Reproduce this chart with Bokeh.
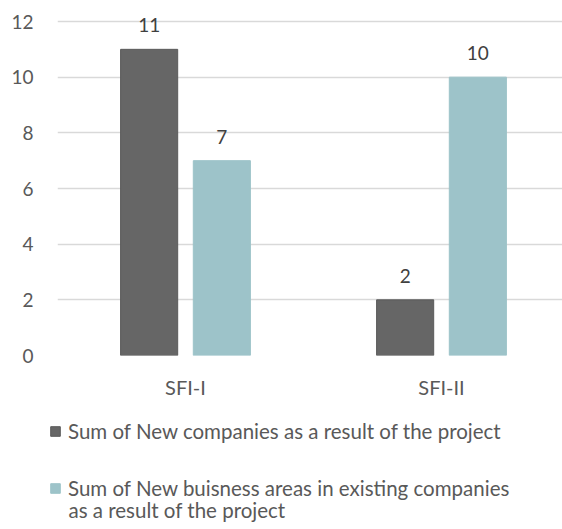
import numpy as np
from bokeh.plotting import figure
from bokeh.layouts import column
from bokeh.models import (ColumnDataSource, Range1d, FixedTicker, LabelSet,
                          Legend, LegendItem, Label)
from bokeh.core.properties import value
from bokeh.embed import file_html
from bokeh.resources import INLINE

categories = ["SFI-I", "SFI-II"]
new_companies = [11, 2]
new_business_areas = [7, 10]
series_names = ["Sum of New companies as a result of the project",
                "Sum of New buisness areas in existing companies"]
series2_cont = "as a result of the project"
y_ticks = [0, 2, 4, 6, 8, 10, 12]

DARK = "#666666"
LIGHT = "#9DC3C9"
FONT = "Lato"

idx = np.arange(len(categories)) + 0.5
off = 0.142
bw = 0.223

src1 = ColumnDataSource(dict(x=idx - off, top=new_companies,
                             lab=[str(v) for v in new_companies]))
src2 = ColumnDataSource(dict(x=idx + off, top=new_business_areas,
                             lab=[str(v) for v in new_business_areas]))

W = 562
PX_PER_UNIT = 334 / 12
p = figure(width=W, height=410, output_backend="svg", toolbar_location=None,
           x_range=Range1d(0, 505 / 256),
           y_range=Range1d(0, 12 + 21 / PX_PER_UNIT),
           min_border_left=57, min_border_right=0, min_border_top=0,
           min_border_bottom=55)
p.outline_line_color = None
p.background_fill_color = "white"
p.border_fill_color = "white"

r1 = p.vbar(x="x", top="top", width=bw, source=src1, fill_color=DARK,
            line_color="#5a5a5a", line_width=1)
r2 = p.vbar(x="x", top="top", width=bw, source=src2, fill_color=LIGHT,
            line_color=LIGHT, line_width=1)

for s in (src1, src2):
    p.add_layout(LabelSet(x="x", y="top", text="lab", source=s,
                          text_align="center", text_baseline="middle",
                          y_offset=24, text_font=value(FONT),
                          text_font_size="19px", text_color="#404040"))

# axes
p.yaxis.ticker = FixedTicker(ticks=y_ticks)
p.yaxis.axis_line_color = None
p.yaxis.major_tick_line_color = None
p.yaxis.minor_tick_line_color = None
p.yaxis.major_label_standoff = 18
p.yaxis.major_label_text_font = FONT
p.yaxis.major_label_text_font_size = "19px"
p.yaxis.major_label_text_color = "#595959"

p.xaxis.ticker = FixedTicker(ticks=list(idx))
p.xaxis.major_label_overrides = {float(v): c for v, c in zip(idx, categories)}
p.xaxis.axis_line_color = None
p.xaxis.major_tick_line_color = None
p.xaxis.minor_tick_line_color = None
p.xaxis.major_label_standoff = 13
p.xaxis.major_label_text_font = FONT
p.xaxis.major_label_text_font_size = "20px"
p.xaxis.major_label_text_color = "#595959"

p.xgrid.grid_line_color = None
p.ygrid.grid_line_color = "#d9d9d9"
p.ygrid.grid_line_width = 1.5

# legend figure
LH = 115
q = figure(width=W, height=LH, output_backend="svg", toolbar_location=None,
           x_range=Range1d(0, 1), y_range=Range1d(0, 1),
           x_axis_location=None, y_axis_location=None,
           min_border=0, min_border_left=0, min_border_right=0,
           min_border_top=0, min_border_bottom=0)
aligned_off = 0
try:
    q.frame_align = False
    p.frame_align = False
except Exception:
    aligned_off = 8  # frames stay aligned at x=57; shift legend as little as possible
lx = 49 if aligned_off == 0 else 0

q.grid.visible = False
q.outline_line_color = None
q.border_fill_color = "white"
q.background_fill_color = "white"
g1 = q.vbar(x=[5], top=[1], width=0.1, fill_color=DARK, line_color="#5a5a5a")
g2 = q.vbar(x=[5], top=[1], width=0.1, fill_color=LIGHT, line_color=LIGHT)

legend = Legend(items=[LegendItem(label=series_names[0], renderers=[g1]),
                       LegendItem(label=series_names[1], renderers=[g2])],
                location=(lx, 25), orientation="vertical",
                glyph_width=12, glyph_height=12, label_standoff=7,
                label_text_font=FONT, label_text_font_size="20.5px",
                label_text_color="#595959", spacing=33, padding=0, margin=0,
                border_line_color=None, background_fill_alpha=0,
                label_height=12)
q.add_layout(legend, "center")
q.add_layout(Label(x=lx + 19, y=LH - 99, x_units="screen", y_units="screen",
                   text=series2_cont, text_font=FONT, text_font_size="20.5px",
                   text_color="#595959", text_baseline="middle",
                   text_align="left"))

layout = column(p, q, spacing=0)
open("out.html", "w").write(file_html(layout, INLINE))
